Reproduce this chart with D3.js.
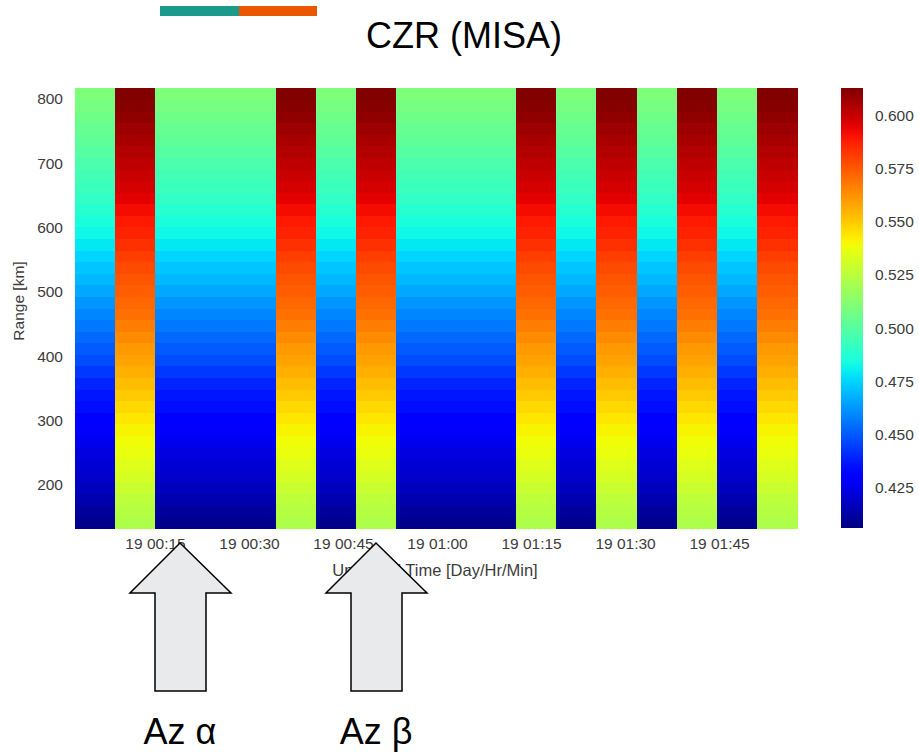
<!DOCTYPE html>
<html>
<head>
<meta charset="utf-8">
<script src="https://cdn.jsdelivr.net/npm/d3@7"></script>
<style>
  html, body { margin: 0; padding: 0; background: #fff; }
  svg { display: block; font-family: "Liberation Sans", Arial, sans-serif; }
</style>
</head>
<body>
<svg id="chart" width="919" height="752"></svg>
<script>
// Scan centre times (UT, day 19), one column per scan
const scanTimes = [
  "00:05:26", "00:11:50", "00:18:14", "00:24:38", "00:31:02", "00:37:26",
  "00:43:50", "00:50:14", "00:56:38", "01:03:02", "01:09:26", "01:15:50",
  "01:22:14", "01:28:38", "01:35:02", "01:41:26", "01:47:50", "01:54:14"
];
// Azimuth used by each scan: "a" = Az α, "b" = Az β
const scanAzimuth = ["a", "b", "a", "a", "a", "b", "a", "b", "a", "a", "a", "b", "a", "b", "a", "b", "a", "b"];

// Range gate centres [km]
const rangeGates = [
  142, 160, 178, 196, 214, 232, 250, 268, 286, 304, 322, 340, 358,
  376, 394, 412, 430, 448, 466, 484, 502, 520, 538, 556, 574, 592,
  610, 628, 646, 664, 682, 700, 718, 736, 754, 772, 790, 808
];
const gateWidth = 18;

// CZR profiles along range for each azimuth
const czrAzA = [
  0.408, 0.411, 0.414, 0.417, 0.419, 0.421, 0.423, 0.426, 0.428, 0.431,
  0.434, 0.436, 0.439, 0.443, 0.447, 0.450, 0.453, 0.456, 0.459, 0.462,
  0.466, 0.469, 0.472, 0.475, 0.479, 0.482, 0.485, 0.488, 0.491, 0.493,
  0.495, 0.497, 0.500, 0.502, 0.504, 0.506, 0.508, 0.510
];
const czrAzB = [
  0.522, 0.524, 0.526, 0.529, 0.532, 0.534, 0.537, 0.539, 0.541, 0.544,
  0.547, 0.550, 0.553, 0.556, 0.559, 0.561, 0.564, 0.567, 0.570, 0.572,
  0.574, 0.576, 0.578, 0.581, 0.584, 0.587, 0.589, 0.592, 0.595, 0.598,
  0.600, 0.602, 0.604, 0.606, 0.608, 0.610, 0.612, 0.613
];

const rangeTicks = [200, 300, 400, 500, 600, 700, 800];
const colorTicks = [0.425, 0.450, 0.475, 0.500, 0.525, 0.550, 0.575, 0.600];
const colorDomain = [0.4057, 0.6132];

// Jet colormap (piecewise linear channels)
function piece(stops, t) {
  for (let i = 1; i < stops.length; i++) {
    if (t <= stops[i][0]) {
      const [x0, y0] = stops[i - 1], [x1, y1] = stops[i];
      return y0 + (y1 - y0) * (t - x0) / (x1 - x0);
    }
  }
  return stops[stops.length - 1][1];
}
const jetR = [[0, 0], [0.35, 0], [0.66, 1], [0.89, 1], [1, 0.5]];
const jetG = [[0, 0], [0.125, 0], [0.375, 1], [0.64, 1], [0.91, 0], [1, 0]];
const jetB = [[0, 0.5], [0.11, 1], [0.34, 1], [0.65, 0], [1, 0]];
function jet(t) {
  t = Math.max(0, Math.min(1, t));
  return d3.rgb(255 * piece(jetR, t), 255 * piece(jetG, t), 255 * piece(jetB, t)).formatHex();
}

const svg = d3.select("#chart");
const plot = { left: 75, right: 797, top: 88, bottom: 528 };

const parseT = s => {
  const [h, m, sec] = s.split(":").map(Number);
  return new Date(Date.UTC(2000, 0, 19, h, m, sec));
};
const centers = scanTimes.map(parseT);
const edges = [];
for (let i = 0; i <= centers.length; i++) {
  if (i === 0) edges.push(new Date(2 * centers[0] - (+centers[0] + +centers[1]) / 2));
  else if (i === centers.length) edges.push(new Date(2 * centers[i - 1] - (+centers[i - 2] + +centers[i - 1]) / 2));
  else edges.push(new Date((+centers[i - 1] + +centers[i]) / 2));
}

const x = d3.scaleUtc().domain([edges[0], edges[edges.length - 1]]).range([plot.left, plot.right]);
const y = d3.scaleLinear()
  .domain([rangeGates[0] - gateWidth / 2, rangeGates[rangeGates.length - 1] + gateWidth / 2])
  .range([plot.bottom, plot.top]);
const cNorm = d3.scaleLinear().domain(colorDomain).range([0, 1]);
const color = v => jet(cNorm(v));

// Heatmap cells
const cells = [];
scanAzimuth.forEach((az, i) => {
  const prof = az === "a" ? czrAzA : czrAzB;
  rangeGates.forEach((r, j) => cells.push({ i, r, v: prof[j] }));
});
svg.append("g").selectAll("rect").data(cells).join("rect")
  .attr("x", d => x(edges[d.i]))
  .attr("width", d => x(edges[d.i + 1]) - x(edges[d.i]) + 0.5)
  .attr("y", d => y(d.r + gateWidth / 2))
  .attr("height", d => y(d.r - gateWidth / 2) - y(d.r + gateWidth / 2) + 0.5)
  .attr("fill", d => color(d.v))
  .attr("shape-rendering", "crispEdges");

const tickColor = "#3c3c3c";

// Time axis
const xAxis = d3.axisBottom(x)
  .tickValues(d3.utcMinute.every(15).range(edges[0], edges[edges.length - 1]))
  .tickFormat(d3.utcFormat("%d %H:%M"))
  .tickSize(0).tickPadding(10);
const gx = svg.append("g").attr("transform", `translate(0,${plot.bottom})`).call(xAxis);
gx.select(".domain").remove();
gx.selectAll("text").attr("fill", tickColor).style("font-size", "15.5px")
  .style("font-family", "Liberation Sans, Arial, sans-serif");

// Range axis
const yAxis = d3.axisLeft(y).tickValues(rangeTicks).tickSize(0).tickPadding(12);
const gy = svg.append("g").attr("transform", `translate(${plot.left},0)`).call(yAxis);
gy.select(".domain").remove();
gy.selectAll("text").attr("fill", tickColor).style("font-size", "15.5px")
  .style("font-family", "Liberation Sans, Arial, sans-serif");

svg.append("text")
  .attr("transform", "translate(24,301) rotate(-90)")
  .attr("text-anchor", "middle")
  .attr("fill", tickColor).style("font-size", "15.5px")
  .text("Range [km]");

svg.append("text")
  .attr("x", 435).attr("y", 576)
  .attr("text-anchor", "middle")
  .attr("fill", tickColor).style("font-size", "16.5px")
  .text("Universal Time [Day/Hr/Min]");

// Colorbar
const cb = { x: 841, w: 22 };
const cy = d3.scaleLinear().domain(colorDomain).range([plot.bottom, plot.top]);
const defs = svg.append("defs");
const grad = defs.append("linearGradient").attr("id", "jetbar")
  .attr("x1", 0).attr("y1", 1).attr("x2", 0).attr("y2", 0);
d3.range(0, 1.0001, 0.02).forEach(t => {
  grad.append("stop").attr("offset", t).attr("stop-color", jet(t));
});
svg.append("rect")
  .attr("x", cb.x).attr("width", cb.w)
  .attr("y", plot.top).attr("height", plot.bottom - plot.top)
  .attr("fill", "url(#jetbar)");
const cAxis = d3.axisRight(cy).tickValues(colorTicks).tickFormat(d3.format(".3f")).tickSize(0).tickPadding(12);
const gc = svg.append("g").attr("transform", `translate(${cb.x + cb.w},0)`).call(cAxis);
gc.select(".domain").remove();
gc.selectAll("text").attr("fill", tickColor).style("font-size", "15.5px")
  .style("font-family", "Liberation Sans, Arial, sans-serif");

// Title and header bars
svg.append("rect").attr("x", 160).attr("y", 6).attr("width", 79).attr("height", 10).attr("fill", "#1b998b");
svg.append("rect").attr("x", 239).attr("y", 6).attr("width", 78).attr("height", 10).attr("fill", "#eb5700");
svg.append("text")
  .attr("x", 464).attr("y", 48)
  .attr("text-anchor", "middle")
  .attr("fill", "#000").style("font-size", "36px")
  .text("CZR (MISA)");

// Azimuth markers
const markers = [
  { label: "Az α", cx: 180 },
  { label: "Az β", cx: 376 }
];
const arrowShape = cx => [
  [cx, 543], [cx + 51, 593], [cx + 26, 593], [cx + 26, 691],
  [cx - 25, 691], [cx - 25, 593], [cx - 50, 593]
];
markers.forEach(m => {
  svg.append("polygon")
    .attr("points", arrowShape(m.cx).map(p => p.join(",")).join(" "))
    .attr("fill", "#e8eaeb")
    .attr("stroke", "#000")
    .attr("stroke-width", 1.5)
    .attr("stroke-linejoin", "miter");
  svg.append("text")
    .attr("x", m.cx).attr("y", 744)
    .attr("text-anchor", "middle")
    .attr("fill", "#000").style("font-size", "36px")
    .text(m.label);
});
</script>
</body>
</html>
